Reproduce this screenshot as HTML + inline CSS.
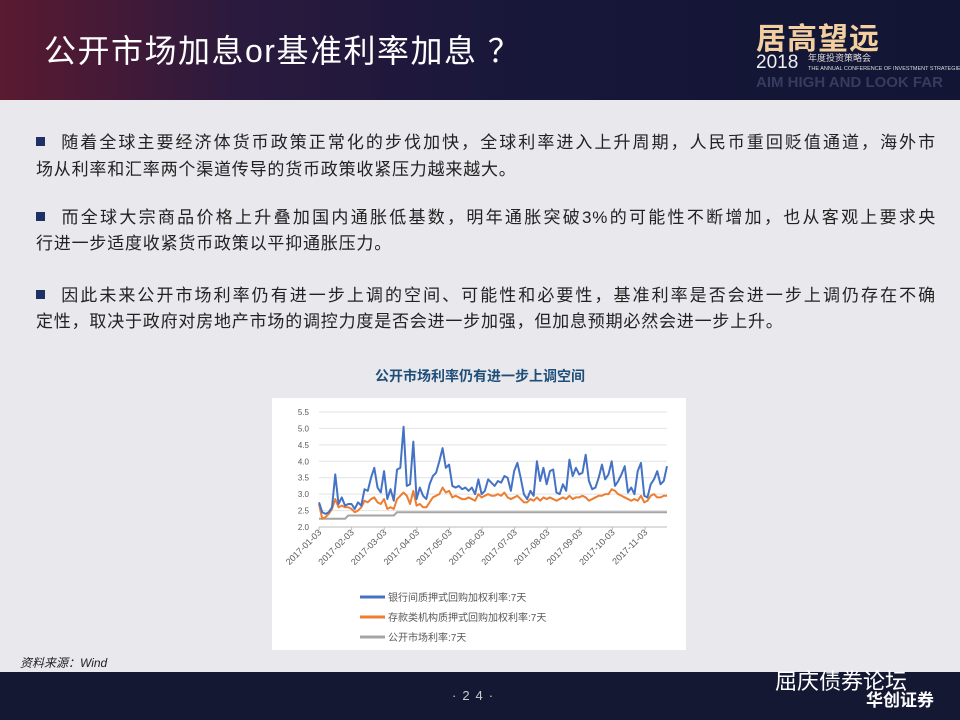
<!DOCTYPE html>
<html><head><meta charset="utf-8"><style>
body{margin:0;width:960px;height:720px;overflow:hidden;background:#e9e9ed;font-family:"Liberation Sans","Noto Sans CJK SC",sans-serif;position:relative}
#hdr{position:absolute;left:0;top:0;width:960px;height:100px;background:linear-gradient(90deg,#5a1a30 0%,#2a1a3e 25%,#17173a 55%,#121533 100%)}
#title{position:absolute;left:44px;top:26px;color:#fff;font-size:32px;letter-spacing:1.5px;white-space:nowrap}
.logo1{position:absolute;left:756px;top:14px;font-size:30px;font-weight:bold;color:#f3cf9f;letter-spacing:1px;white-space:nowrap}
.logo2{position:absolute;left:756px;top:52px;font-size:19px;color:#eee;white-space:nowrap}
.logo3{position:absolute;left:808px;top:54px;font-size:5.5px;line-height:9px;color:#ddd;white-space:nowrap}
.logo4{position:absolute;left:756px;top:74px;font-size:15px;color:#3a3a5e;font-weight:bold;white-space:nowrap}
.ln{position:absolute;left:36px;width:900px;font-size:17px;line-height:26px;color:#222;white-space:nowrap;letter-spacing:0.8px}
.j{text-align:justify;text-align-last:justify}
.sq{display:inline-block;width:9px;height:9px;background:#1f3064;margin-right:15px;vertical-align:2px}
#ctitle{position:absolute;left:0;width:960px;top:366px;text-align:center;font-size:14px;font-weight:bold;color:#1f4e79}
#chart{position:absolute;left:272px;top:398px}
#src{position:absolute;left:20px;top:654px;font-size:12px;font-style:italic;color:#222}
#ftr{position:absolute;left:0;top:672px;width:960px;height:48px;background:#141833}
#pg{position:absolute;left:452px;top:688px;color:#ccc;font-size:13px;letter-spacing:6px}
#wx{position:absolute;left:775px;top:664px;color:#fff;font-size:22px}
#hc{position:absolute;left:866px;top:686px;color:#fff;font-size:17px;font-weight:bold}
</style></head><body>
<div id="hdr"></div>
<div id="title">公开市场加息or基准利率加息 ？</div>
<div class="logo1">居高望远</div>
<div class="logo2">2018</div>
<div class="logo3"><span style="font-size:9px">年度投资策略会</span><br>THE ANNUAL CONFERENCE OF INVESTMENT STRATEGIES</div>
<div class="logo4">AIM HIGH AND LOOK FAR</div>
<div>
<div class="ln j" style="top:130px"><span class="sq"></span>随着全球主要经济体货币政策正常化的步伐加快，全球利率进入上升周期，人民币重回贬值通道，海外市</div>
<div class="ln" style="top:157px">场从利率和汇率两个渠道传导的货币政策收紧压力越来越大。</div></div>
<div>
<div class="ln j" style="top:205px"><span class="sq"></span>而全球大宗商品价格上升叠加国内通胀低基数，明年通胀突破3%的可能性不断增加，也从客观上要求央</div>
<div class="ln" style="top:231px">行进一步适度收紧货币政策以平抑通胀压力。</div></div>
<div>
<div class="ln j" style="top:283px"><span class="sq"></span>因此未来公开市场利率仍有进一步上调的空间、可能性和必要性，基准利率是否会进一步上调仍存在不确</div>
<div class="ln" style="top:309px">定性，取决于政府对房地产市场的调控力度是否会进一步加强，但加息预期必然会进一步上升。</div></div>
<div id="ctitle">公开市场利率仍有进一步上调空间</div>
<svg id="chart" width="414" height="252"></svg>
<div id="src">资料来源：Wind</div>
<div id="ftr"></div>
<div id="pg">·24·</div>
<div id="wx">屈庆债券论坛</div>
<div id="hc">华创证券</div>
<script>
const yTicks=[2.0,2.5,3.0,3.5,4.0,4.5,5.0,5.5];
const xTicks=["2017-01-03","2017-02-03","2017-03-03","2017-04-03","2017-05-03","2017-06-03","2017-07-03","2017-08-03","2017-09-03","2017-10-03","2017-11-03"];
const seriesNames=["银行间质押式回购加权利率:7天","存款类机构质押式回购加权利率:7天","公开市场利率:7天"];
const blue=[2.75,2.45,2.4,2.45,2.6,3.6,2.7,2.9,2.65,2.7,
2.7,2.55,2.75,2.65,3.15,3.1,3.5,3.8,3.2,3.05,
3.7,2.85,3.15,2.8,3.75,3.8,5.05,3.25,3.3,4.6,
2.85,3.2,2.95,2.85,3.3,3.55,3.65,4.0,4.4,3.8,
3.9,3.25,3.2,3.25,3.15,3.2,3.1,3.2,3.0,3.45,
3.0,3.1,3.45,3.35,3.25,3.4,3.35,3.55,3.5,3.1,
3.7,3.95,3.5,3.0,2.85,3.1,2.95,4.0,3.4,3.8,
3.3,3.7,3.75,3.05,3.0,3.3,3.1,4.05,3.55,3.8,
3.6,3.65,4.2,3.4,3.15,3.2,3.5,3.9,3.45,3.6,
4.0,3.25,3.4,3.6,3.85,3.05,3.2,3.0,3.7,3.95,
2.95,2.9,3.3,3.45,3.7,3.3,3.4,3.85];
const orange=[2.7,2.25,2.3,2.4,2.55,2.85,2.6,2.65,2.6,2.6,
2.55,2.45,2.5,2.6,2.8,2.75,2.85,2.9,2.75,2.7,
2.85,2.55,2.6,2.55,2.85,2.95,3.05,2.95,2.7,3.1,
2.65,2.7,2.6,2.6,2.75,2.9,2.95,3.0,3.2,3.05,
3.1,2.9,2.95,2.9,2.85,2.85,2.9,2.85,2.8,3.0,
2.9,2.95,3.0,2.95,2.95,3.0,2.95,3.05,2.9,2.85,
2.9,2.95,2.85,2.75,2.75,2.85,2.8,2.9,2.8,2.9,
2.85,2.9,2.85,2.8,2.85,2.9,2.85,2.95,2.85,2.9,
2.9,2.95,2.9,2.8,2.85,2.9,2.95,2.95,3.0,3.0,
3.15,3.1,3.0,2.95,2.9,2.85,2.8,2.85,2.8,2.95,
2.75,2.8,2.95,3.0,2.9,2.9,2.95,2.95];
const gray=[2.25,2.25,2.25,2.25,2.25,2.25,2.25,2.25,2.25,2.35,
2.35,2.35,2.35,2.35,2.35,2.35,2.35,2.35,2.35,2.35,
2.35,2.35,2.35,2.35,2.45,2.45,2.45,2.45,2.45,2.45,
2.45,2.45,2.45,2.45,2.45,2.45,2.45,2.45,2.45,2.45,
2.45,2.45,2.45,2.45,2.45,2.45,2.45,2.45,2.45,2.45,
2.45,2.45,2.45,2.45,2.45,2.45,2.45,2.45,2.45,2.45,
2.45,2.45,2.45,2.45,2.45,2.45,2.45,2.45,2.45,2.45,
2.45,2.45,2.45,2.45,2.45,2.45,2.45,2.45,2.45,2.45,
2.45,2.45,2.45,2.45,2.45,2.45,2.45,2.45,2.45,2.45,
2.45,2.45,2.45,2.45,2.45,2.45,2.45,2.45,2.45,2.45,
2.45,2.45,2.45,2.45,2.45,2.45,2.45,2.45];
const NS="http://www.w3.org/2000/svg";
const svg=document.getElementById('chart');
const L=47,R=395,T=14,B=129;
const ys=v=>B-(v-2)/(5.5-2)*(B-T);
const xi=i=>L+i/(blue.length-1)*(R-L);
const xm=m=>L+m*32.6;
function mk(t,a){const e=document.createElementNS(NS,t);for(const k in a)e.setAttribute(k,a[k]);svg.appendChild(e);return e;}
let bg=mk('rect',{x:0,y:0,width:414,height:252,fill:'#fff'});


yTicks.forEach(v=>{
 let g=mk('line',{x1:L,x2:R,y1:ys(v),y2:ys(v),stroke:'#e2e2e2','stroke-width':1});
 
 
 let t=mk('text',{x:L-10,y:ys(v)+3,'text-anchor':'end','font-size':8,fill:'#595959'});
 t.textContent=v.toFixed(1);
 
 
});
let ax=mk('line',{x1:L,x2:R,y1:B,y2:B,stroke:'#bbb'});


xTicks.forEach((d,m)=>{
 const x=xm(m);
 mk('line',{x1:x,x2:x,y1:B,y2:B+3,stroke:'#bbb'});
 let t=mk('text',{x:x+3,y:B+6,'text-anchor':'end','font-size':9,fill:'#595959',transform:`rotate(-45 ${x+3} ${B+6})`});
 t.textContent=d;
 
 
});
const cols=['#4472c4','#ed7d31','#a5a5a5'];
[gray,orange,blue].forEach((s,k)=>{
 const c=cols[2-k];
 let p=mk('polyline',{points:s.map((v,i)=>xi(i)+','+ys(v)).join(' '),fill:'none',stroke:c,'stroke-width':2,'stroke-linejoin':'round'});
 
 
});
seriesNames.forEach((n,k)=>{
 const y=199+k*20;
 let l=mk('line',{x1:88,x2:113,y1:y,y2:y,stroke:cols[k],'stroke-width':3});
 
 
 let t=mk('text',{x:116,y:y+4,'font-size':10,fill:'#595959'});
 t.textContent=n;
 
 
});
</script>
</body></html>
